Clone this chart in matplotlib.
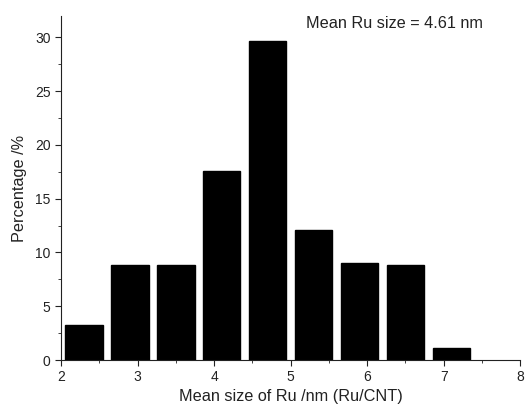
import matplotlib
matplotlib.use("Agg")
import matplotlib.pyplot as plt
from matplotlib.ticker import MultipleLocator

plt.rcParams['font.family'] = ['Liberation Sans', 'DejaVu Sans']

# histogram of Ru particle size
bin_centres = [2.3, 2.9, 3.5, 4.1, 4.7, 5.3, 5.9, 6.5, 7.1]
percentage = [3.3, 8.8, 8.8, 17.6, 29.7, 12.1, 9.0, 8.8, 1.1]

fig = plt.figure(figsize=(5.29, 4.12), dpi=100)
ax = fig.add_axes([0.1153, 0.1262, 0.868, 0.835])

ax.bar(bin_centres, percentage, width=0.49, color='black', edgecolor='black')

ax.set_xlim(2, 8)
ax.set_ylim(0, 32)
ax.xaxis.set_major_locator(MultipleLocator(1))
ax.xaxis.set_minor_locator(MultipleLocator(0.5))
ax.yaxis.set_major_locator(MultipleLocator(5))
ax.yaxis.set_minor_locator(MultipleLocator(2.5))
ax.spines['top'].set_visible(False)
ax.spines['right'].set_visible(False)
for s in ['left', 'bottom']:
    ax.spines[s].set_color('#222222')
ax.tick_params(which='major', direction='out', length=4, labelsize=10, colors='#222222')
ax.tick_params(which='minor', direction='out', length=2.5, colors='#222222')

ax.set_xlabel('Mean size of Ru /nm (Ru/CNT)', fontsize=11.7, color='#222222', labelpad=3)
ax.set_ylabel('Percentage /%', fontsize=11.7, color='#222222', labelpad=6)
ax.text(0.919, 1.0, 'Mean Ru size = 4.61 nm', transform=ax.transAxes,
        ha='right', va='top', fontsize=11.7, color='#222222')

fig.savefig('out.png', dpi=100)
